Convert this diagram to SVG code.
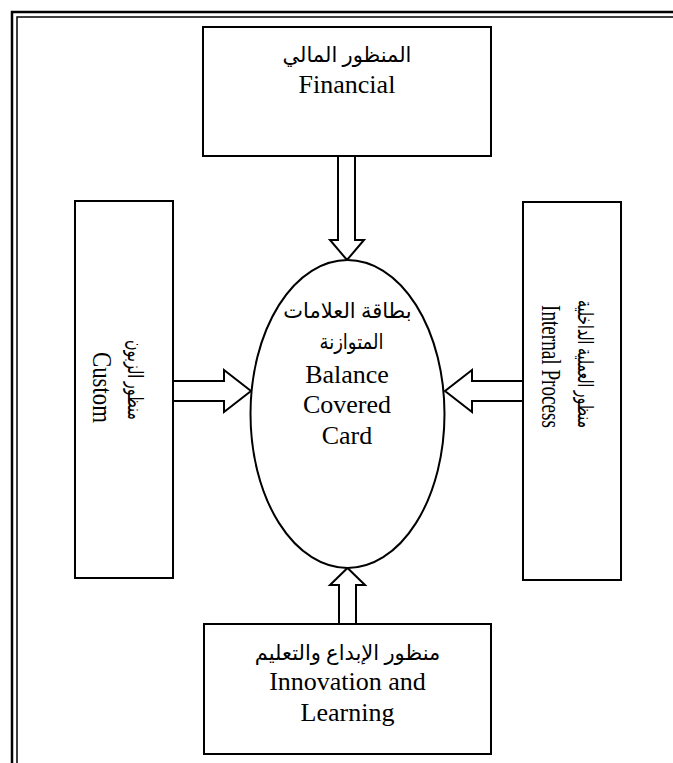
<svg xmlns="http://www.w3.org/2000/svg" width="673" height="763" viewBox="0 0 673 763">
  <style>
    .box { fill: #ffffff; stroke: #000000; stroke-width: 2; }
    .oval { fill: #ffffff; stroke: #000000; stroke-width: 2; }
    .arrow { fill: #ffffff; stroke: #000000; stroke-width: 2; stroke-linejoin: miter; }
    .en { font-family: "Liberation Serif", "Times New Roman", serif; font-size: 26px; fill: #000000; text-anchor: middle; }
    .ar { font-family: "Liberation Serif", "DejaVu Sans", serif; font-size: 21px; fill: #000000; text-anchor: middle; }
    .side { font-size: 27px; }
  </style>

  <rect width="673" height="763" fill="#ffffff"/>

  <!-- page border: thick outer rule and thin inner rule -->
  <g id="page-border" fill="none">
    <path d="M12,763 V12 H673" stroke="#000000" stroke-width="2.5"/>
    <path d="M17,763 V17 H673" stroke="#000000" stroke-width="1.5"/>
  </g>

  <!-- connectors: hollow block arrows pointing at the centre -->
  <g id="connectors">
    <polygon class="arrow" points="338,156 355,156 355,240 364,240 347,260 330,240 338,240"/>
    <polygon class="arrow" points="173,381 224,381 224,370 251,391 224,412 224,401 173,401"/>
    <polygon class="arrow" points="523,381 472,381 472,370 445,391 472,412 472,401 523,401"/>
    <polygon class="arrow" points="339,624 339,585 330,585 347.5,568 365,585 356,585 356,624"/>
  </g>

  <g id="financial">
    <rect class="box" x="203" y="27" width="288" height="129"/>
    <text class="ar" x="347" y="62">المنظور المالي</text>
    <text class="en" x="347" y="93">Financial</text>
  </g>

  <!-- side labels run top-to-bottom and are condensed along the line -->
  <g id="customer">
    <rect class="box" x="75" y="201" width="98" height="377"/>
    <g transform="translate(124,389) rotate(90)">
      <text class="ar" x="-9" y="-4" textLength="80" lengthAdjust="spacingAndGlyphs">منظور الزبون</text>
      <text class="en side" x="-1.5" y="31" textLength="71" lengthAdjust="spacingAndGlyphs">Custom</text>
    </g>
  </g>

  <g id="internal-process">
    <rect class="box" x="523" y="202" width="98" height="378"/>
    <g transform="translate(572,391) rotate(90)">
      <text class="ar" x="-27" y="-6" textLength="128" lengthAdjust="spacingAndGlyphs">منظور العملية الداخلية</text>
      <text class="en side" x="-24.5" y="30" textLength="123" lengthAdjust="spacingAndGlyphs">Internal Process</text>
    </g>
  </g>

  <g id="balanced-scorecard">
    <ellipse class="oval" cx="347.5" cy="414" rx="97" ry="154"/>
    <text class="ar" x="347.5" y="318">بطاقة العلامات</text>
    <text class="ar" x="351.5" y="349" textLength="64" lengthAdjust="spacingAndGlyphs">المتوازنة</text>
    <text class="en" x="347" y="383">Balance</text>
    <text class="en" x="347" y="413">Covered</text>
    <text class="en" x="347" y="444">Card</text>
  </g>

  <g id="innovation-learning">
    <rect class="box" x="204" y="624" width="287" height="130"/>
    <text class="ar" x="347.5" y="660">منظور الإبداع والتعليم</text>
    <text class="en" x="347.5" y="690">Innovation and</text>
    <text class="en" x="347.5" y="721">Learning</text>
  </g>
</svg>
